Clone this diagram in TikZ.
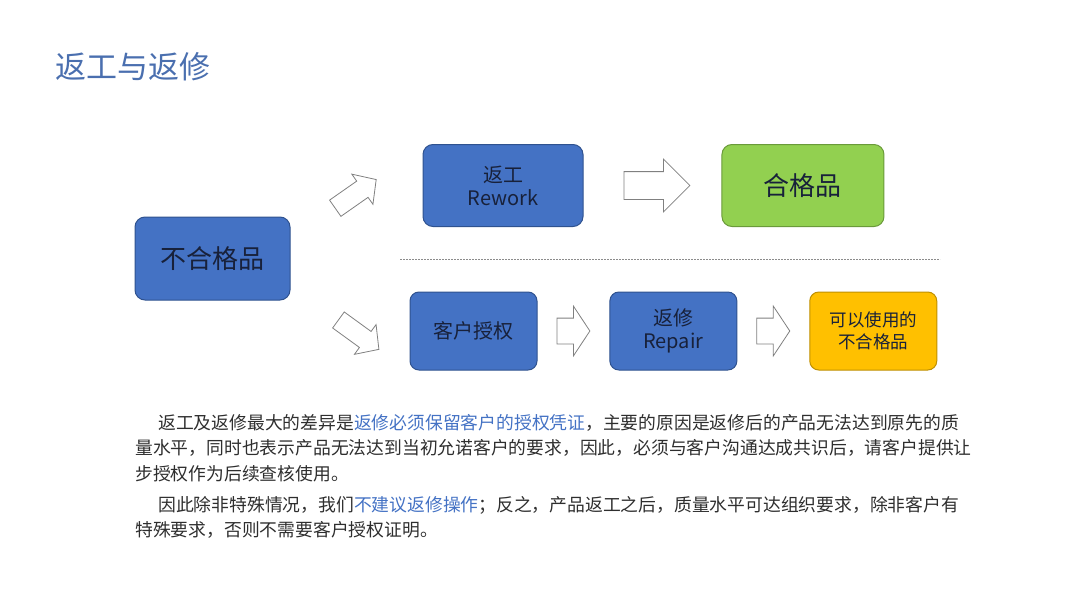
\documentclass[tikz,border=0pt]{standalone}
\usepackage{fontspec}
\setmainfont{Noto Sans CJK SC}
\usetikzlibrary{shapes,arrows,positioning}
\definecolor{boxblue}{HTML}{4472C4}
\definecolor{boxline}{HTML}{2F528F}
\definecolor{okgreen}{HTML}{92D050}
\definecolor{okline}{HTML}{6A9A3A}
\definecolor{usegold}{HTML}{FFC000}
\definecolor{useline}{HTML}{BF9000}
\definecolor{inktext}{HTML}{18213A}
\definecolor{titleblue}{HTML}{4A6FAF}
\definecolor{notetext}{HTML}{2E2E2E}
\definecolor{markblue}{HTML}{4472C4}
\tikzstyle{flow}=[rectangle,draw=boxline,line width=1pt,rounded corners=10pt,fill=boxblue,align=center,text=inktext,minimum width=160pt,minimum height=82pt,font=\fontsize{20}{23}\selectfont]
\tikzstyle{bigbox}=[flow,minimum width=155pt,minimum height=83pt,font=\fontsize{26}{30}\selectfont]
\tikzstyle{small}=[flow,rounded corners=9pt,minimum width=127pt,minimum height=78pt]
\tikzstyle{hollow}=[single arrow,draw=black!50,fill=white,line width=0.8pt,inner xsep=0pt]
\tikzstyle{note}=[anchor=north west,inner sep=0pt,align=left,text=notetext,font=\fontsize{17.8}{25.5}\selectfont]

\begin{document}
\begin{tikzpicture}[x=1pt,y=-1pt,node distance=70pt]
\useasboundingbox (0,0) rectangle (1080,608);
\node (title) [anchor=west,text=titleblue,font=\fontsize{31}{36}\selectfont,inner sep=0pt] at (55,67) {返工与返修};
% left box
\node (bad) [bigbox] at (212.5,258.5) {不合格品};
% upper row: rework
\node (rework) [flow] at (503,185.5) {返工\\Rework};
\node (arrR) [hollow,minimum height=66pt,minimum width=52pt,inner ysep=13.5pt,single arrow head extend=12.5pt,single arrow tip angle=90,right=40pt of rework] {};
\node (good) [flow,fill=okgreen,draw=okline,minimum width=162pt,font=\fontsize{26}{30}\selectfont,right=31pt of arrR] {合格品};
% lower row: repair
\node (auth) [small] at (473.5,331) {客户授权};
\node (arrA) [hollow,minimum height=33pt,minimum width=49pt,inner ysep=12.5pt,single arrow head extend=12pt,single arrow tip angle=113,right=19pt of auth] {};
\node (repair) [small,right=19pt of arrA] {返修\\Repair};
\node (arrB) [hollow,minimum height=33pt,minimum width=49pt,inner ysep=12.5pt,single arrow head extend=12pt,single arrow tip angle=113,right=19pt of repair] {};
\node (usable) [small,fill=usegold,draw=useline,font=\fontsize{17.5}{22}\selectfont,right=19pt of arrB] {可以使用的\\不合格品};
% split arrows
\node (upA) [hollow,minimum height=50pt,minimum width=36pt,inner ysep=9.5pt,single arrow head extend=8.5pt,single arrow tip angle=95,rotate=35] at (352,196.5) {};
\node (downA) [hollow,minimum height=50pt,minimum width=36pt,inner ysep=9.5pt,single arrow head extend=8.5pt,single arrow tip angle=95,rotate=-36] at (355,332) {};
% separator
\coordinate (cutL) at (400,259);
\coordinate (cutR) at (940,259);
\draw [black!45,line width=0.6pt,dash pattern=on 2pt off 1pt] (cutL) -- (cutR);
% notes
\node (noteA) [note] at (135,414) {\hspace*{23pt}返工及返修最大的差异是{\color{markblue}返修必须保留客户的授权凭证}，主要的原因是返修后的产品无法达到原先的质\\量水平，同时也表示产品无法达到当初允诺客户的要求，因此，必须与客户沟通达成共识后，请客户提供让\\步授权作为后续查核使用。};
\node (noteB) [note] at (135,496) {\hspace*{23pt}因此除非特殊情况，我们{\color{markblue}不建议返修操作}；反之，产品返工之后，质量水平可达组织要求，除非客户有\\特殊要求，否则不需要客户授权证明。};
\end{tikzpicture}
\end{document}
